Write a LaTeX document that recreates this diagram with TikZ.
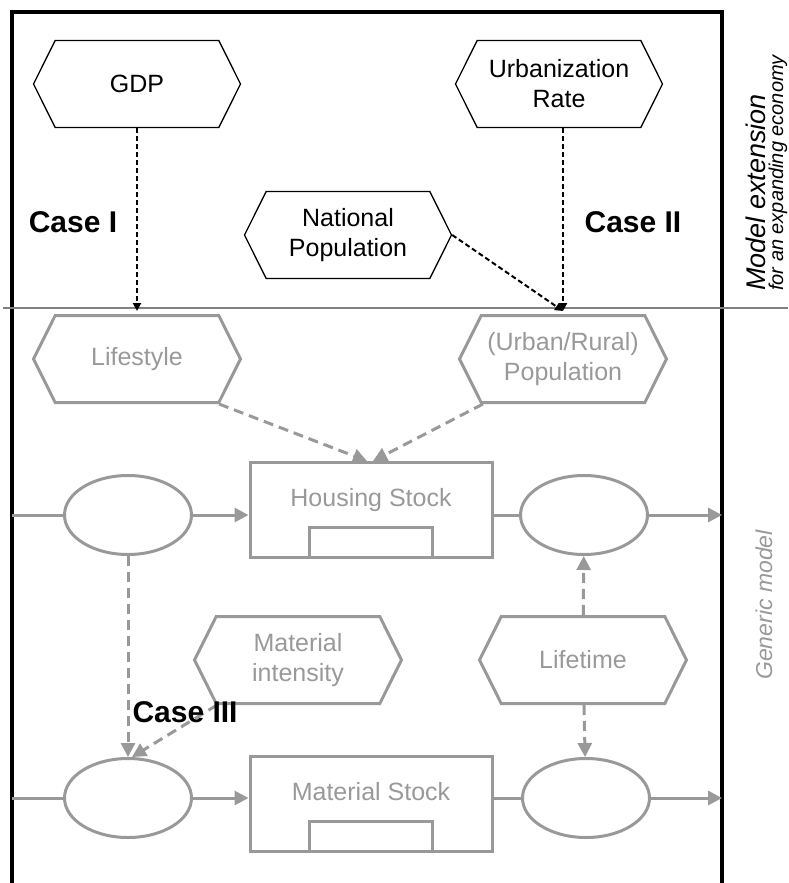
\documentclass[tikz,border=0pt]{standalone}
\usepackage{fontspec}
\setmainfont{Liberation Sans}
\usepackage{tikz}
\usetikzlibrary{shapes.symbols,shapes.geometric,arrows.meta}

\definecolor{genericgray}{RGB}{153,153,153}
\definecolor{divider}{RGB}{128,128,128}

\begin{document}
\begin{tikzpicture}[
        x=1pt, y=-1pt,
        font=\fontsize{25}{30}\selectfont,
        hexa/.style={signal, signal to=east and west, signal pointer angle=127, draw, minimum width=207pt, minimum height=87pt, inner sep=1pt, align=center},
        driver/.style={hexa, line width=1.3pt},
        param/.style={hexa, draw=genericgray, text=genericgray, line width=3pt},
        flow/.style={ellipse, draw=genericgray, line width=3pt, minimum width=127pt, minimum height=79pt},
        stock/.style={rectangle, draw=genericgray, text=genericgray, line width=3pt, minimum width=242pt, minimum height=95pt, text height=18pt, text depth=26pt},
        bin/.style={rectangle, draw=genericgray, line width=3pt, minimum width=123pt, minimum height=30pt, anchor=south},
        case/.style={font=\fontsize{30}{34}\selectfont\bfseries},
        sidelabel/.style={rotate=90, anchor=base west, inner sep=0pt},
        extarrow/.style={-{Triangle[length=8pt,width=8pt]}, line width=2pt, dash pattern=on 5pt off 3pt},
        infarrow/.style={-{Triangle[length=14pt,width=14pt]}, draw=genericgray, line width=3pt, dash pattern=on 10pt off 6pt},
        flowline/.style={draw=genericgray, line width=3pt},
        flowarrow/.style={flowline, -{Triangle[length=14pt,width=14pt]}}
    ]
    \useasboundingbox (0,0) rectangle (788,883);

    % frame and divider
    \draw[line width=3.5pt] (12,883) -- (12,12) -- (722,12) -- (722,883);
    \draw[divider, line width=1.3pt] (3,308) -- (788,308);

    % model extension
    \node[driver] (gdp) at (137,84) {GDP};
    \node[driver] (urbrate) at (559,84) {Urbanization\\Rate};
    \node[driver] (natpop) at (348,235) {National\\Population};

    % generic model: housing
    \node[param] (lifestyle) at (137,359) {Lifestyle};
    \node[param] (population) at (563,359) {(Urban/Rural)\\Population};
    \node[stock] (housing) at (371,510) {Housing Stock};
    \node[bin] (housingbin) at (housing.south) {};
    \node[flow] (hinflow) at (128,515) {};
    \node[flow] (houtflow) at (584,515) {};
    \coordinate (hsource) at (12,515);
    \coordinate (hsink) at (722,515);

    % generic model: material
    \node[param] (intensity) at (298,660) {Material\\intensity};
    \node[param] (lifetime) at (583,660) {Lifetime};
    \node[stock] (material) at (371,804) {Material Stock};
    \node[bin] (materialbin) at (material.south) {};
    \node[flow] (minflow) at (128,798) {};
    \node[flow] (moutflow) at (586,798) {};
    \coordinate (msource) at (12,798);
    \coordinate (msink) at (722,798);

    % flows
    \draw[flowline] (hsource) -- (hinflow.west);
    \draw[flowarrow] (hinflow.east) -- (hinflow.east -| housing.west);
    \draw[flowline] (houtflow.west -| housing.east) -- (houtflow.west);
    \draw[flowarrow] (houtflow.east) -- (hsink);
    \draw[flowline] (msource) -- (minflow.west);
    \draw[flowarrow] (minflow.east) -- (minflow.east -| material.west);
    \draw[flowline] (moutflow.west -| material.east) -- (moutflow.west);
    \draw[flowarrow] (moutflow.east) -- (msink);

    % extension links
    \coordinate (popin) at ([yshift=3pt]population.north);
    \draw[extarrow] (gdp) -- ([yshift=3pt]lifestyle.north);
    \draw[extarrow] (urbrate.south -| popin) -- (popin);
    \draw[extarrow] (natpop.east) -- (popin);

    % influences
    \draw[infarrow] ([xshift=82pt]lifestyle.south) -- ([xshift=-4pt]housing.north);
    \draw[infarrow] ([xshift=-80pt]population.south) -- ([xshift=2pt]housing.north);
    \draw[infarrow] (hinflow) -- (minflow);
    \draw[infarrow] ([xshift=-81pt]intensity.south) -- ([xshift=4pt]minflow.north);
    \draw[infarrow] (lifetime) -- (houtflow);
    \draw[infarrow] (lifetime) -- (moutflow);

    % cases
    \node[case] (case1) at (73,222) {Case I};
    \node[case] (case2) at (633,222) {Case II};
    \node[case, anchor=west] (case3) at (129,712) {Case III};

    % side labels
    \node[sidelabel, font=\fontsize{27}{32}\selectfont\itshape] (extlabel) at (765,291) {Model extension};
    \node[sidelabel, font=\fontsize{20}{24}\selectfont\itshape] (extsub) at (783,291) {for an expanding economy};
    \node[sidelabel, text=genericgray, font=\fontsize{23}{28}\selectfont\itshape] (genlabel) at (772,680) {Generic model};

\end{tikzpicture}
\end{document}
